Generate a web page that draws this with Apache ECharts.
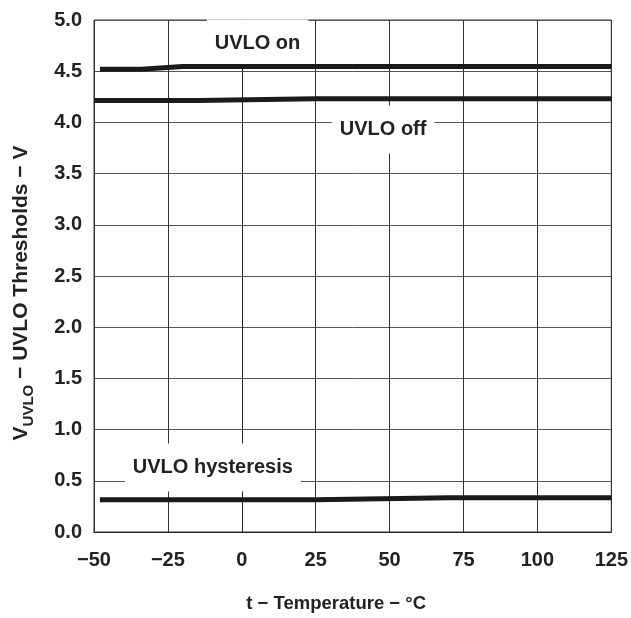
<!DOCTYPE html>
<html>
<head>
<meta charset="utf-8">
<script src="https://cdn.jsdelivr.net/npm/echarts@6/dist/echarts.min.js"></script>
<style>html,body{margin:0;padding:0;background:#fff}#c{width:631px;height:618px}</style>
</head>
<body>
<div id="c"></div>
<script>
// UVLO thresholds vs temperature
const uvloOn = [[-48, 4.52], [-34, 4.52], [-20, 4.545], [125, 4.545]];
const uvloOff = [[-50, 4.215], [-15, 4.215], [25, 4.232], [125, 4.232]];
const uvloHyst = [[-48, 0.315], [25, 0.315], [70, 0.335], [125, 0.335]];
const xTicks = [-50, -25, 0, 25, 50, 75, 100, 125];
const yTicks = [0, 0.5, 1, 1.5, 2, 2.5, 3, 3.5, 4, 4.5, 5];
const notes = [
  { text: 'UVLO on', at: [5.3, 4.77] },
  { text: 'UVLO off', at: [47.8, 3.93] },
  { text: 'UVLO hysteresis', at: [-9.8, 0.63] }
];

const FONT = '"Liberation Sans", Arial, sans-serif';
const lineColor = '#1a1a1a';
function mk(name, data, note) {
  return {
    name, type: 'line', data, showSymbol: false, symbol: 'none',
    lineStyle: { width: 5, color: lineColor }, z: 5,
    markPoint: {
      symbol: 'rect', symbolSize: 0, silent: true,
      data: [{ coord: note.at, value: note.text }],
      label: {
        show: true, position: 'inside', formatter: note.text,
        fontFamily: FONT, fontWeight: 'bold', fontSize: 20, color: '#222',
        backgroundColor: '#fff', padding: [14, 8, 14, 8]
      }
    }
  };
}

const chart = echarts.init(document.getElementById('c'));
chart.setOption({
  animation: false,
  backgroundColor: '#fff',
  grid: { left: 94, right: 18, top: 20, bottom: 81, show: true, borderColor: '#333', borderWidth: 1 },
  xAxis: {
    type: 'value', min: -50, max: 125, interval: 25,
    name: 't \u2212 Temperature \u2212 \u00B0C', nameLocation: 'middle', nameGap: 62,
    nameTextStyle: { fontFamily: FONT, fontWeight: 'bold', fontSize: 18.5, color: '#222', padding: [0, 33, 0, 0] },
    axisLine: { show: true, lineStyle: { color: '#222', width: 1 } },
    axisTick: { show: false },
    axisLabel: {
      margin: 18, fontFamily: FONT, fontWeight: 'bold', fontSize: 20, color: '#222',
      customValues: xTicks,
      formatter: v => (v < 0 ? '\u2212' + Math.abs(v) : '' + v)
    },
    splitLine: { show: true, lineStyle: { color: '#333', width: 1 } }
  },
  yAxis: {
    type: 'value', min: 0, max: 5, interval: 0.5,
    name: '{b|V}{s|UVLO}{b| \u2212 UVLO Thresholds \u2212 V}', nameLocation: 'middle', nameGap: 62,
    nameTextStyle: {
      padding: [0, 34, 0, 0],
      rich: {
        b: { fontFamily: FONT, fontWeight: 'bold', fontSize: 21, color: '#222', verticalAlign: 'bottom', lineHeight: 24 },
        s: { fontFamily: FONT, fontWeight: 'bold', fontSize: 15, color: '#222', verticalAlign: 'bottom', lineHeight: 18, padding: [0, 0, -4, 0] }
      }
    },
    axisLine: { show: true, lineStyle: { color: '#222', width: 1 } },
    axisTick: { show: false },
    axisLabel: {
      margin: 12, fontFamily: FONT, fontWeight: 'bold', fontSize: 20, color: '#222',
      formatter: v => v.toFixed(1)
    },
    splitLine: { show: true, lineStyle: { color: '#555', width: 1 } }
  },
  series: [
    mk('UVLO on', uvloOn, notes[0]),
    mk('UVLO off', uvloOff, notes[1]),
    mk('UVLO hysteresis', uvloHyst, notes[2])
  ]
});
</script>
</body>
</html>
